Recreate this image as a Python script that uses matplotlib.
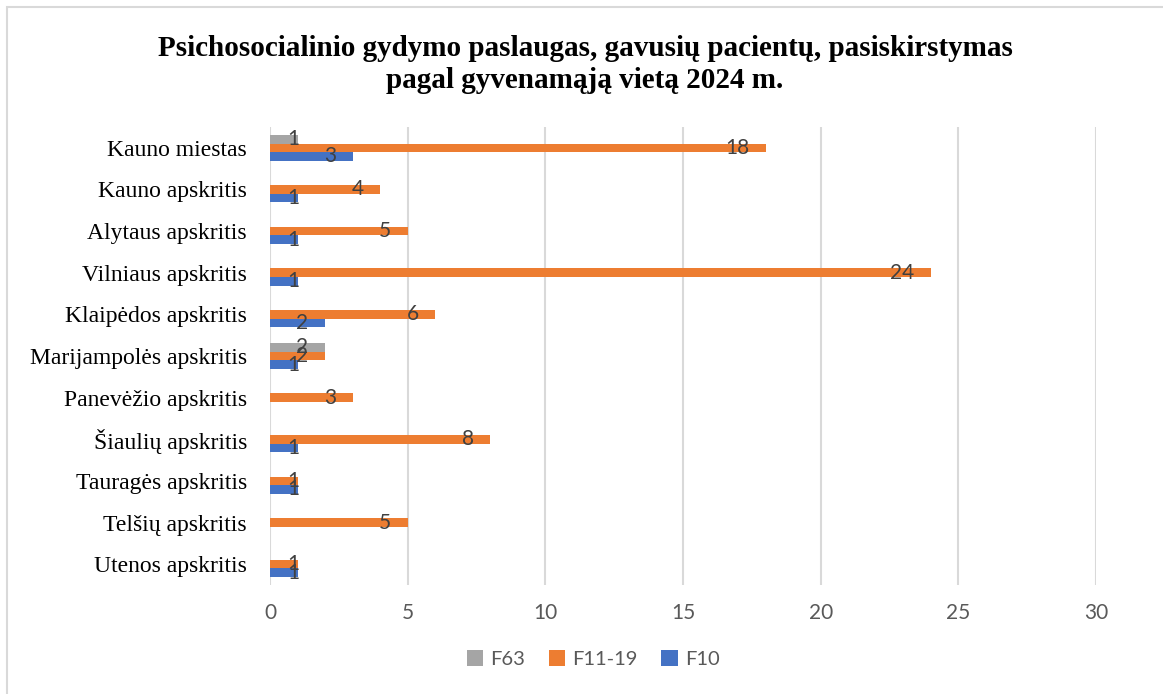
import matplotlib.pyplot as plt
from matplotlib.patches import Rectangle

# data
categories = ["Kauno miestas", "Kauno apskritis", "Alytaus apskritis", "Vilniaus apskritis",
              "Klaipėdos apskritis", "Marijampolės apskritis", "Panevėžio apskritis",
              "Šiaulių apskritis", "Tauragės apskritis", "Telšių apskritis", "Utenos apskritis"]
f10 = [3, 1, 1, 1, 2, 1, 0, 1, 1, 0, 1]
f11_19 = [18, 4, 5, 24, 6, 2, 3, 8, 1, 5, 1]
f63 = [1, 0, 0, 0, 0, 2, 0, 0, 0, 0, 0]

series = [("F63", f63, "#a5a5a5", -1), ("F11-19", f11_19, "#ed7d31", 0), ("F10", f10, "#4472c4", 1)]

fig = plt.figure(figsize=(11.63, 6.94), dpi=100)
ax = fig.add_axes([270 / 1163, 1 - 585 / 694, (1096 - 270) / 1163, (585 - 127) / 694])

# light frame, only top/left visible in the reference
fig.patches.append(Rectangle((7 / 1163, -0.1), 1.2, 1 - 7 / 694 + 0.1, transform=fig.transFigure,
                             fill=False, edgecolor="#d9d9d9", linewidth=1.5))

h = 0.205
y = list(range(len(categories)))
for name, vals, col, off in series:
    pos = [i + off * h for i in y]
    ax.barh(pos, vals, height=h, color=col, label=name, zorder=3)
    for p, v in zip(pos, vals):
        if v == 0:
            continue
        if v < 1.5:
            ax.text(0.62, p, str(v), ha="left", va="center", fontsize=15,
                    color="#404040", family="Lato", zorder=4)
        else:
            ax.text(v - 0.6, p, str(v), ha="right", va="center", fontsize=15,
                    color="#404040", family="Lato", zorder=4)

ax.set_ylim(len(categories) - 0.5, -0.5)
ax.set_xlim(0, 30)
ax.set_xticks(range(0, 31, 5))
ax.set_yticks(y)
ax.set_yticklabels(categories, family="Liberation Serif", fontsize=17, color="black")
ax.tick_params(axis="x", labelsize=15, colors="#595959", length=0, pad=13)
ax.tick_params(axis="y", length=0, pad=16.5)
for lab in ax.get_xticklabels():
    lab.set_family("Lato")
ax.grid(axis="x", color="#d9d9d9", linewidth=1.5, zorder=0)
for s in ax.spines.values():
    s.set_visible(False)

fig.text(0.503, 1 - 49 / 694, "Psichosocialinio gydymo paslaugas, gavusių pacientų, pasiskirstymas",
         ha="center", va="center", fontsize=21, fontweight="bold", family="Liberation Serif")
fig.text(0.503, 1 - 81 / 694, "pagal gyvenamąją vietą 2024 m.",
         ha="center", va="center", fontsize=21, fontweight="bold", family="Liberation Serif")

leg = fig.legend(loc="center", bbox_to_anchor=(593 / 1163, 1 - 659 / 694), ncol=3, frameon=False,
                 prop={"family": "Lato", "size": 14.5}, handlelength=0.8, handleheight=0.8,
                 handletextpad=0.35, columnspacing=1.2)
for t in leg.get_texts():
    t.set_color("#595959")

fig.savefig("out.png", dpi=100)
